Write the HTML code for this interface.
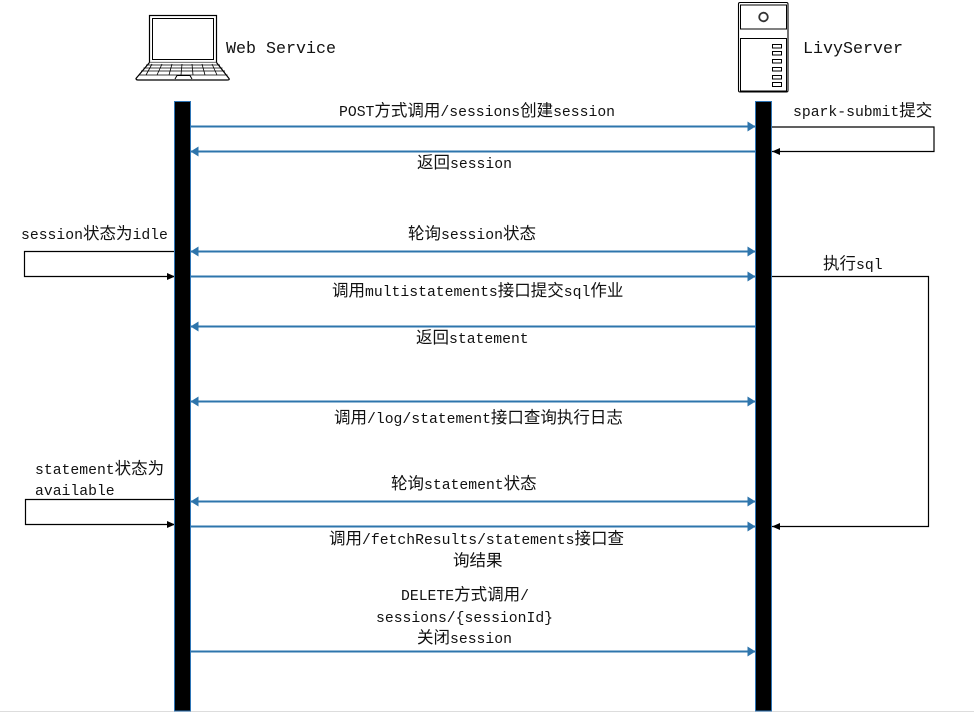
<!DOCTYPE html>
<html><head><meta charset="utf-8"><title>Sequence diagram</title>
<style>
html,body{margin:0;padding:0;background:#fff;width:974px;height:725px;overflow:hidden}
svg{display:block}
text{font-family:"Liberation Mono","Noto Sans CJK SC",monospace;font-size:14.75px;fill:#111;white-space:pre}
.c{font-family:"Noto Sans CJK SC","WenQuanYi Zen Hei",sans-serif;font-size:16.5px}
.t{font-size:16.67px}
</style></head><body>
<svg width="974" height="725" viewBox="0 0 974 725" xmlns="http://www.w3.org/2000/svg">
<defs>
<marker id="b" markerUnits="userSpaceOnUse" markerWidth="9" markerHeight="10" refX="8" refY="5" orient="auto-start-reverse"><path d="M0 0L8 5L0 10Z" fill="#2e75ac"/></marker>
<marker id="k" markerUnits="userSpaceOnUse" markerWidth="9" markerHeight="8" refX="8" refY="4" orient="auto"><path d="M0 .5L8 4L0 7.5Z" fill="#000"/></marker>
</defs>
<rect x="0" y="711" width="974" height="1" fill="#ddd"/>
<!-- laptop -->
<g fill="none" stroke="#000">
<rect x="149.5" y="15.5" width="67" height="47" stroke-width="1.2" fill="#fff"/>
<rect x="152.5" y="18.5" width="61" height="41" stroke-width="1"/>
<path d="M149.5 62.5L136 78.5Q136 80 138 80H227Q230 80 229 78.5L216.5 62.5" stroke-width="1.2" fill="#fff"/>
<path d="M146 65H220M143.500 68H222.500M141 71H225M138.500 75H227.500" stroke-width=".8"/>
<path d="M152 64L146 75M162 64L157 75M172 64L169 75M182 64L181 75M192 64L193 75M202 64L205 75M212 64L217 75" stroke-width=".8"/>
<path d="M175 79L177 75.500H190L192 79" stroke-width="1"/>
</g>
<!-- server -->
<g fill="none" stroke="#000">
<rect x="738.500" y="2.500" width="49.500" height="89.500" rx="1.500" stroke-width="1.100"/>
<rect x="740.500" y="5" width="46" height="24" stroke-width="1"/>
<rect x="740.500" y="38.500" width="46" height="52.500" stroke-width="1"/>
<circle cx="763.500" cy="17" r="4.300" stroke="#333" stroke-width="1.800"/>
<g stroke-width="1"><rect x="772.500" y="44.500" width="9" height="3.500"/><rect x="772.500" y="51.500" width="9" height="3.500"/><rect x="772.500" y="59.500" width="9" height="3.500"/><rect x="772.500" y="67.500" width="9" height="3.500"/><rect x="772.500" y="75.500" width="9" height="3.500"/><rect x="772.500" y="82.500" width="9" height="4"/></g>
</g>
<!-- black connectors -->
<g fill="none" stroke="#000" stroke-width="1.200">
<path d="M771 127H934V151.500H772" marker-end="url(#k)"/>
<path d="M175 251.500H24.500V276.500H175" marker-end="url(#k)"/>
<path d="M175 499.500H25.500V524.500H175" marker-end="url(#k)"/>
<path d="M771 276.500H928.500V526.500H772" marker-end="url(#k)"/>
</g>
<!-- blue connectors -->
<g fill="none" stroke="#2e75ac" stroke-width="2">
<path d="M190 126.500H755.500" marker-end="url(#b)"/>
<path d="M755.500 151.500H190.500" marker-end="url(#b)"/>
<path d="M190.500 251.500H755.500" marker-start="url(#b)" marker-end="url(#b)"/>
<path d="M190 276.500H755.500" marker-end="url(#b)"/>
<path d="M755.500 326.500H190.500" marker-end="url(#b)"/>
<path d="M190.500 401.500H755.500" marker-start="url(#b)" marker-end="url(#b)"/>
<path d="M190.500 501.500H755.500" marker-start="url(#b)" marker-end="url(#b)"/>
<path d="M190 526.500H755.500" marker-end="url(#b)"/>
<path d="M190 651.500H755.500" marker-end="url(#b)"/>
</g>
<!-- lifelines -->
<rect x="174.500" y="101.500" width="16" height="609.500" fill="#000" stroke="#2e75b6" stroke-width="1"/>
<rect x="755.500" y="101.500" width="16" height="609.500" fill="#000" stroke="#2e75b6" stroke-width="1"/>
<!-- labels -->
<text class="t" x="226" y="53">Web Service</text>
<text class="t" x="803" y="53">LivyServer</text>
<text x="339" y="116">POST<tspan class="c">方式调用</tspan>/sessions<tspan class="c">创建</tspan>session</text>
<text x="793" y="116">spark-submit<tspan class="c">提交</tspan></text>
<text x="417" y="168"><tspan class="c">返回</tspan>session</text>
<text x="21" y="239">session<tspan class="c">状态为</tspan>idle</text>
<text x="408" y="239"><tspan class="c">轮询</tspan>session<tspan class="c">状态</tspan></text>
<text x="823" y="269"><tspan class="c">执行</tspan>sql</text>
<text x="332" y="296"><tspan class="c">调用</tspan>multistatements<tspan class="c">接口提交</tspan>sql<tspan class="c">作业</tspan></text>
<text x="416" y="343"><tspan class="c">返回</tspan>statement</text>
<text x="334" y="423"><tspan class="c">调用</tspan>/log/statement<tspan class="c">接口查询执行日志</tspan></text>
<text x="35" y="474">statement<tspan class="c">状态为</tspan></text>
<text x="35" y="495">available</text>
<text x="391" y="489"><tspan class="c">轮询</tspan>statement<tspan class="c">状态</tspan></text>
<text x="329" y="544"><tspan class="c">调用</tspan>/fetchResults/statements<tspan class="c">接口查</tspan></text>
<text x="453" y="566"><tspan class="c">询结果</tspan></text>
<text x="401" y="600">DELETE<tspan class="c">方式调用</tspan>/</text>
<text x="376" y="622">sessions/{sessionId}</text>
<text x="417" y="643"><tspan class="c">关闭</tspan>session</text>
</svg>
</body></html>
